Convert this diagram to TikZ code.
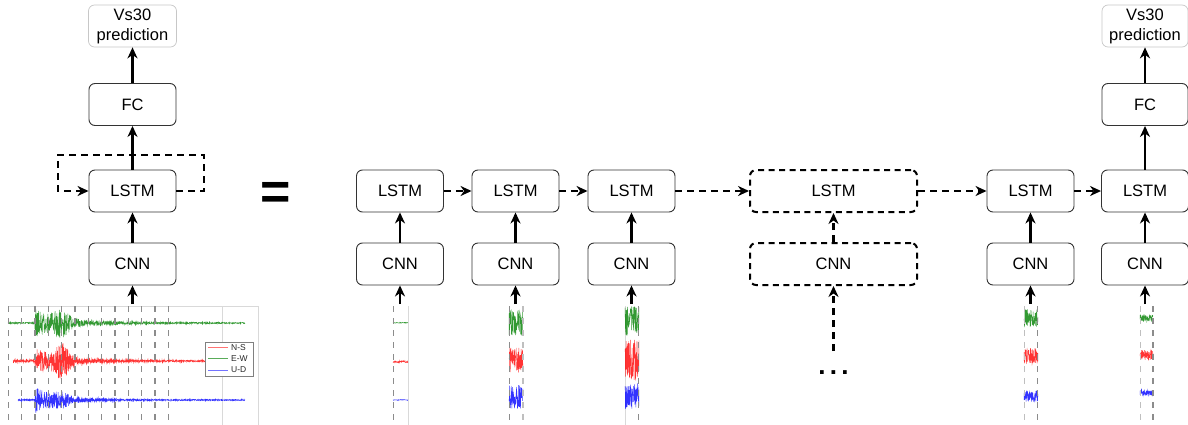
\documentclass[tikz,border=0pt]{standalone}
\usepackage{fontspec}
\setmainfont{Liberation Sans}
\usetikzlibrary{arrows.meta}
\definecolor{sgreen}{RGB}{0,128,0}
\definecolor{sred}{RGB}{255,0,0}
\definecolor{sblue}{RGB}{0,0,255}
\newcommand\seis[6]{\draw[#1, line width=0.45pt, opacity=0.8] plot[domain=#3:#4, samples=#5] (\x, {#2 + (#6)*rand});}
\tikzset{
  blk/.style={draw=black!80, line width=0.9pt, rounded corners=6pt, minimum width=87pt, minimum height=42pt, inner sep=0pt, font=\fontsize{16.5}{20}\selectfont},
  dblk/.style={blk, draw=black, dash pattern=on 6pt off 4.5pt, line width=2pt, minimum width=167pt},
  outbox/.style={blk, draw=black!22, line width=0.7pt, align=center, minimum width=88pt},
  arr/.style={-{Stealth[length=11pt,width=10pt,inset=3.5pt]}, line width=2.2pt},
  darr/.style={arr, dash pattern=on 7pt off 5pt},
  gdash/.style={black!45, line width=1.4pt, dash pattern=on 6pt off 6pt},
  gdashlight/.style={black!25, line width=1.2pt, dash pattern=on 6pt off 6pt},
  glight/.style={black!15, line width=0.8pt},
  legtext/.style={font=\fontsize{8.5}{9}\selectfont, text=black!85, anchor=west, inner sep=0pt},
}
\begin{document}
\begin{tikzpicture}[x=1pt,y=-1pt]
\useasboundingbox (0,0) rectangle (1188,425);
\pgfmathsetseed{42}

% ---------- left waveform image ----------
\draw[glight] (8,306) -- (258,306);
\draw[glight] (222,306) -- (222,425);
\draw[glight] (258,306) -- (258,425);
\draw[sgreen, line width=0.45pt, opacity=0.8] plot[domain=8:245, samples=1200]
  (\x, {323 + ifthenelse(\x<35, 0.7, 0.7+14*exp(-(\x-35)/30)+9*exp(-((\x-62)/8)^2))*rand});
\draw[sred, line width=0.45pt, opacity=0.8] plot[domain=13:245, samples=1200]
  (\x, {361 + ifthenelse(\x<35, 1.2, 0.8+12*exp(-(\x-35)/30)+13*exp(-((\x-62)/8)^2))*rand});
\draw[sblue, line width=0.45pt, opacity=0.8] plot[domain=18:245, samples=1200]
  (\x, {400 + ifthenelse(\x<35, 0.7, 0.6+13*exp(-(\x-35)/25)+4*exp(-((\x-62)/8)^2))*rand});
\foreach \k in {0,...,12} \draw[gdash] ({8.3+13.33*\k},306) -- ({8.3+13.33*\k},425);
\draw[black!50, line width=0.6pt, fill=white] (205,342) rectangle (253,376);
\draw[sred!55, line width=1pt] (208,347.7) -- (228,347.7);
\draw[sgreen!65, line width=1pt] (208,358.3) -- (228,358.3);
\draw[sblue!55, line width=1pt] (208,370) -- (228,370);
\node[legtext] (lgNS) at (231,347.7) {N-S};
\node[legtext] (lgEW) at (231,358.3) {E-W};
\node[legtext] (lgUD) at (231,370) {U-D};

% ---------- left column ----------
\node[outbox] (vsL) at (132.5,26) {Vs30\\prediction};
\node[blk] (fcL) at (132.5,104.5) {FC};
\node[blk] (lstmL) at (132.5,191) {LSTM};
\node[blk] (cnnL) at (132.5,264) {CNN};
\coordinate (inL) at (132.5,304);
\coordinate (loopR) at (204,155);
\coordinate (loopL) at (58,155);
\draw[arr] (inL) -- (cnnL.south);
\draw[arr] (cnnL.north) -- (lstmL.south);
\draw[arr] (lstmL.north) -- (fcL.south);
\draw[arr] (fcL.north) -- (vsL.south);
\draw[darr] (lstmL.east) -| (loopR) -- (loopL) |- (lstmL.west);

% ---------- equals ----------
\node[font=\fontsize{52}{52}\selectfont\bfseries, inner sep=0pt] (eq) at (276,195.5) {=};

% ---------- unrolled chain ----------
\foreach \n/\cx in {1/400, 2/515.5, 3/631.5, 5/1030.5, 6/1145} {
  \node[blk] (lstm\n) at (\cx,191) {LSTM};
  \node[blk] (cnn\n) at (\cx,264) {CNN};
  \coordinate (in\n) at (\cx,304);
  \draw[arr] (in\n) -- (cnn\n.south);
  \draw[arr] (cnn\n.north) -- (lstm\n.south);
}
\node[dblk] (lstm4) at (833.5,191) {LSTM};
\node[dblk] (cnn4) at (833.5,264) {CNN};
\coordinate (in4) at (833.5,351);
\draw[darr] (in4) -- (cnn4.south);
\draw[darr] (cnn4.north) -- (lstm4.south);
\node[font=\fontsize{26}{26}\selectfont\bfseries, inner sep=0pt] (dots) at (833.5,373) {.\hspace{4.3pt}.\hspace{4.3pt}.};

\draw[darr] (lstm1.east) -- (lstm2.west);
\draw[darr] (lstm2.east) -- (lstm3.west);
\draw[darr] (lstm3.east) -- (lstm4.west);
\draw[darr] (lstm4.east) -- (lstm5.west);
\draw[darr] (lstm5.east) -- (lstm6.west);

\node[blk, minimum width=86pt] (fcR) at (1145,104.5) {FC};
\node[outbox, minimum width=86pt] (vsR) at (1145,26) {Vs30\\prediction};
\draw[arr] (lstm6.north) -- (fcR.south);
\draw[arr] (fcR.north) -- (vsR.south);

% ---------- strips ----------
% strip 1
\draw[glight] (408,306) -- (408,425);
\seis{sgreen}{322.7}{393}{408}{40}{0.5}
\seis{sred}{361.7}{393}{408}{40}{1.1}
\seis{sblue}{400}{393}{408}{40}{0.5}
\draw[gdash] (393.5,306) -- (393.5,425);
% strip 2
\seis{sgreen}{323}{509}{523}{70}{13}
\seis{sred}{360.5}{509}{523}{70}{13}
\seis{sblue}{397}{509}{523}{70}{12}
\draw[gdash] (509.5,306) -- (509.5,425);
\draw[gdashlight] (523,306) -- (523,425);
% strip 3
\draw[glight] (625,306) -- (625,425);
\seis{sgreen}{321}{625}{639}{70}{15}
\seis{sred}{359}{625}{639}{70}{21}
\seis{sblue}{396}{625}{639}{70}{13}
\draw[gdash] (638.5,306) -- (638.5,425);
% strip 5
\seis{sgreen}{318}{1024}{1038}{70}{9}
\seis{sred}{356}{1024}{1038}{70}{8}
\seis{sblue}{396}{1024}{1038}{70}{6}
\draw[gdashlight] (1024.5,306) -- (1024.5,425);
\draw[gdash] (1037.5,306) -- (1037.5,425);
% strip 6
\seis{sgreen}{318}{1140}{1153}{70}{3.5}
\seis{sred}{355}{1140}{1153}{70}{5}
\seis{sblue}{393}{1140}{1153}{70}{2.5}
\draw[gdashlight] (1140.5,306) -- (1140.5,425);
\draw[gdash] (1153,306) -- (1153,425);
\end{tikzpicture}
\end{document}
